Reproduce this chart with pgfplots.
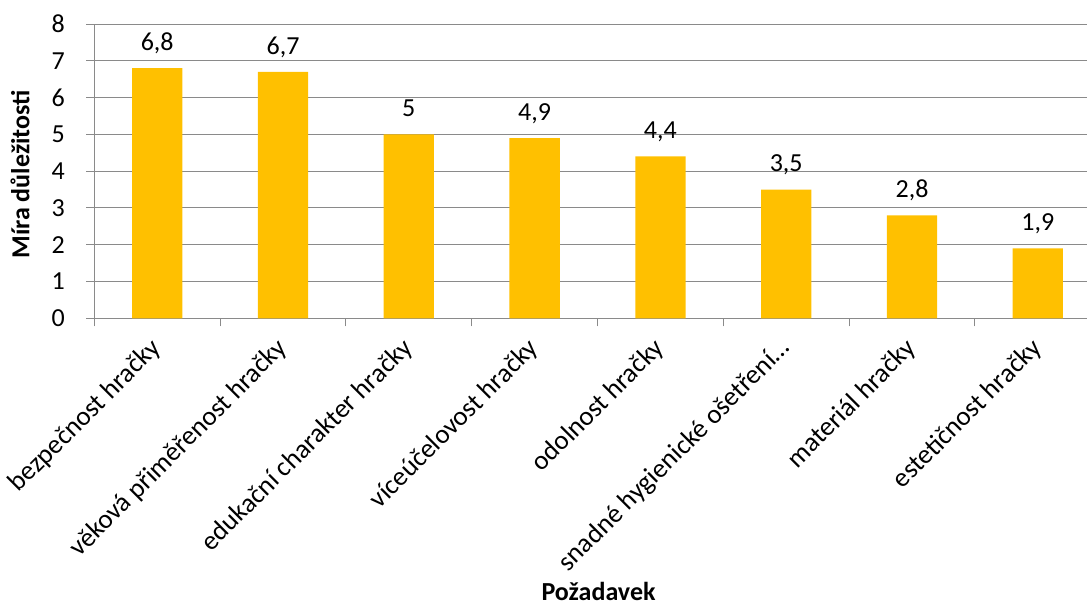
\documentclass[border=0pt]{standalone}
\usepackage{pgfplots}
\pgfplotsset{compat=1.18}
\usepackage{fontspec}
\setmainfont{Carlito}
\definecolor{bargold}{HTML}{FFC000}
\definecolor{axisgray}{HTML}{8A8A8A}
\newcommand{\chartfont}{\fontsize{26}{30}\selectfont}
\newcommand{\catfont}{\fontsize{27}{31}\selectfont}
\begin{document}
\begin{tikzpicture}[x=1pt,y=1pt]
\useasboundingbox (-94.3,-287.7) rectangle (992.7,318.3);
\begin{axis}[
  at={(0,0)}, anchor=south west,
  scale only axis, width=992.7pt, height=294.3pt,
  xmin=-0.5, xmax=7.391, ymin=0, ymax=8,
  ybar, bar width=0.4,
  axis lines*=left,
  axis line style={axisgray, line width=1pt},
  ytick={0,...,8},
  ymajorgrids,
  grid style={axisgray, line width=0.9pt},
  xtick={0,...,7},
  xticklabels={bezpečnost hračky, věková přiměřenost hračky, edukační charakter hračky, víceúčelovost hračky, odolnost hračky, snadné hygienické ošetření…, materiál hračky, estetičnost hračky},
  minor xtick={-0.5,0.5,...,6.5},
  tick align=outside,
  major tick length=8pt, minor tick length=8pt,
  major x tick style={draw=none},
  minor x tick style={axisgray, line width=1pt},
  major y tick style={axisgray, line width=1pt},
  /pgf/number format/assume math mode=true,
  /pgf/number format/use comma,
  tick label style={font=\chartfont, text=black},
  yticklabel style={xshift=-18pt},
  xticklabel style={font=\catfont, rotate=45, anchor=east, inner sep=2pt, xshift=2pt},
  xticklabel shift=18pt,
  xlabel={Požadavek},
  xlabel style={font=\bfseries\chartfont, at={(axis description cs:0.508,-0.958)}, anchor=base},
  ylabel={Míra důležitosti},
  ylabel style={font=\bfseries\chartfont, at={(axis description cs:-0.0748,0.489)}, anchor=center},
  nodes near coords,
  every node near coord/.append style={font=\chartfont, text=black, inner sep=0pt, text depth=0pt, yshift=17.5pt},
]
\addplot[fill=bargold, draw=none] coordinates {
  (0,6.8) (1,6.7) (2,5.0) (3,4.9) (4,4.4) (5,3.5) (6,2.8) (7,1.9)
};
\end{axis}
\end{tikzpicture}
\end{document}
